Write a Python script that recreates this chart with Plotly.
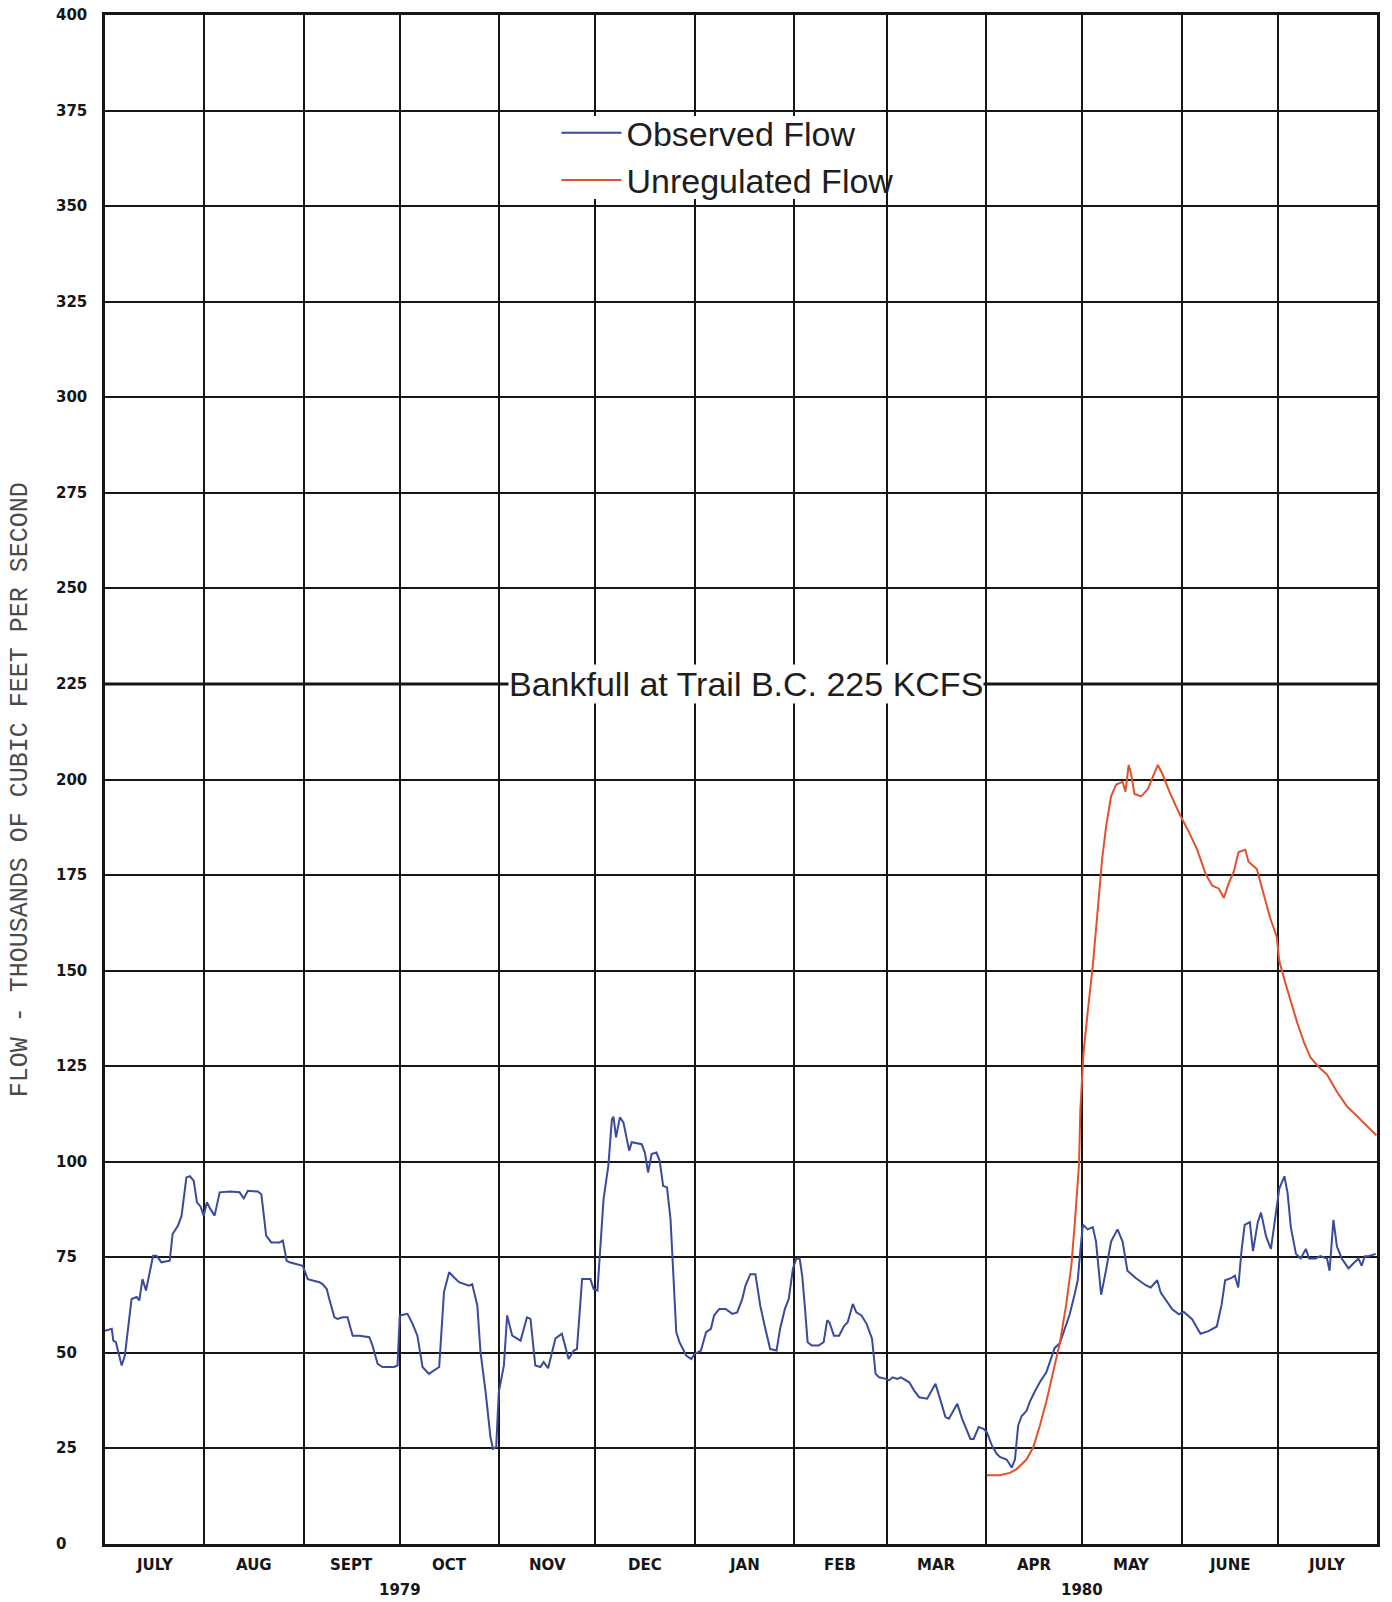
import pandas as pd
import plotly.graph_objects as go

START = pd.Timestamp("1979-07-01")

# Observed flow at Trail, B.C.: days after 1 July 1979, thousands of cfs
obs_day = [0, 2.1, 2.6, 3.4, 5.2, 6.2, 7.3, 8.3, 9.9, 10.7, 11.7, 12.8, 15.0, 16.1, 17.6, 20.2,
           21.1, 22.8, 23.9, 25.4, 26.5, 27.7, 28.7, 29.8, 30.8, 31.8, 32.9, 34.2, 35.8, 38.9,
           42.0, 43.3, 44.6, 47.7, 48.8, 50.3, 51.9, 54.5, 55.5, 56.7, 57.6, 59.6, 61.7, 63.3,
           64.8, 66.9, 67.9, 69.2, 70.0, 71.6, 72.6, 74.2, 75.7, 77.3, 79.4, 82.5, 83.5, 85.1,
           86.6, 90.2, 91.3, 92.0, 94.4, 96.0, 97.5, 99.1, 101.1, 102.7, 104.3, 105.8, 107.4,
           108.9, 110.5, 113.6, 114.6, 116.2, 117.2, 118.8, 120.3, 121.1, 122.1, 122.9, 124.5,
           125.5, 127.1, 129.7, 131.7, 132.8, 134.3, 135.9, 136.9, 138.3, 140.6, 142.6, 144.7,
           146.3, 147.3, 148.9, 151.5, 152.5, 153.7, 155.6, 157.1, 158.2, 158.7, 159.5, 160.7,
           161.8, 163.6, 164.4, 167.5, 168.5, 169.5, 170.6, 172.1, 173.1, 174.2, 175.4, 176.5,
           178.3, 179.3, 181.4, 183.0, 184.0, 186.0, 187.6, 189.1, 190.1, 191.7, 193.7, 195.8,
           197.3, 198.9, 199.9, 201.4, 203.0, 204.5, 206.1, 207.6, 209.6, 210.7, 212.2, 213.4,
           214.7, 215.7, 216.8, 217.6, 218.4, 219.3, 220.6, 222.7, 224.3, 225.4, 226.1, 227.5,
           229.1, 230.7, 231.8, 233.4, 234.5, 236.1, 237.7, 239.4, 240.5, 241.6, 243.7, 244.7,
           245.8, 247.3, 248.4, 251.0, 252.5, 254.1, 256.6, 257.7, 259.2, 260.8, 262.3, 263.4,
           266.0, 267.5, 270.1, 271.1, 272.7, 274.2, 275.2, 276.8, 278.3, 279.3, 281.4, 283.0,
           284.0, 285.0, 286.1, 287.6, 288.7, 290.2, 291.8, 293.8, 294.9, 296.4, 298.0, 299.5,
           301.1, 302.6, 303.6, 304.4, 305.2, 306.7, 308.3, 309.3, 310.9, 312.4, 314.0, 316.0,
           317.6, 319.1, 321.7, 324.8, 326.4, 328.4, 329.5, 333.1, 335.2, 336.7, 339.3, 341.9,
           344.4, 347.0, 348.5, 349.6, 351.6, 352.6, 353.7, 354.7, 355.7, 357.3, 358.3, 359.8,
           360.8, 362.4, 363.9, 366.5, 368.1, 369.1, 370.1, 371.7, 373.2, 374.8, 375.8, 377.8,
           379.3, 381.4, 382.2, 383.4, 384.5, 386.0, 388.1, 389.6, 391.2, 392.2, 393.2, 394.3,
           396.6]
obs_kcfs = [55.8, 56.3, 53.2, 52.8, 46.7, 49.3, 57.1, 64.1, 64.6, 63.7, 69.3, 66.3, 75.4, 75.4,
            73.7, 74.1, 81.1, 83.3, 85.9, 95.9, 96.2, 95.0, 89.4, 88.3, 85.9, 89.4, 87.6, 85.9,
            92.0, 92.2, 92.0, 90.4, 92.4, 92.2, 91.5, 80.7, 78.9, 78.9, 79.4, 74.1, 73.7, 73.3,
            72.8, 69.3, 68.9, 68.5, 68.0, 66.7, 64.1, 59.3, 58.9, 59.3, 59.3, 54.5, 54.5, 54.1,
            51.9, 47.1, 46.3, 46.3, 46.7, 59.8, 60.2, 57.6, 54.5, 46.3, 44.5, 45.4, 46.3, 65.9,
            71.1, 69.8, 68.5, 67.6, 68.0, 62.4, 50.2, 39.7, 28.0, 24.9, 25.4, 39.7, 46.7, 59.8,
            54.5, 53.2, 59.3, 58.9, 46.7, 46.3, 47.6, 46.0, 53.8, 55.0, 48.4, 50.6, 51.0, 69.3,
            69.3, 66.7, 66.3, 90.2, 99.0, 111.1, 111.8, 106.4, 111.6, 110.3, 102.9, 105.1, 104.6,
            102.4, 97.2, 102.0, 102.4, 100.3, 93.7, 93.3, 85.0, 55.4, 52.8, 49.3, 48.4, 49.7,
            50.6, 55.4, 56.3, 59.8, 61.5, 61.5, 60.2, 60.6, 64.1, 67.6, 70.6, 70.6, 62.4, 56.3,
            51.0, 50.6, 56.3, 61.5, 64.1, 72.0, 74.6, 74.7, 70.2, 62.4, 52.8, 51.9, 51.9, 52.8,
            58.5, 58.0, 54.5, 54.5, 57.1, 58.0, 62.8, 60.6, 59.8, 57.6, 53.7, 44.5, 43.6, 43.2,
            42.8, 43.6, 43.2, 43.6, 42.3, 40.2, 38.4, 38.0, 39.7, 41.9, 37.5, 33.2, 32.8, 36.7,
            32.8, 27.5, 27.5, 30.6, 30.1, 29.3, 25.8, 23.6, 22.8, 22.1, 20.0, 22.1, 31.0, 33.5,
            34.8, 37.3, 39.9, 42.4, 44.9, 47.5, 51.3, 52.5, 56.3, 60.1, 65.2, 69.0, 76.6, 83.5,
            82.3, 82.9, 79.1, 65.2, 71.5, 79.1, 82.3, 79.1, 71.5, 69.6, 67.7, 67.1, 69.0, 65.8,
            61.4, 60.1, 60.7, 58.8, 55.0, 55.7, 56.9, 62.6, 69.0, 69.6, 70.2, 67.1, 76.6, 83.5,
            84.2, 76.6, 84.2, 86.7, 80.4, 77.2, 93.0, 96.2, 91.8, 82.9, 75.9, 74.7, 77.2, 74.7,
            74.7, 75.3, 74.7, 71.5, 84.8, 77.8, 74.7, 72.1, 73.4, 74.7, 72.8, 75.3, 75.3, 75.9]

# Computed unregulated flow, April through July 1980
unreg_day = [275.2, 279.3, 282.4, 284.5, 287.6, 289.7, 291.8, 293.8, 295.9, 298.0, 300.0, 301.6,
             302.7, 304.0, 304.4, 305.4, 306.8, 308.3, 309.9, 311.2, 312.5, 314.0, 315.6, 317.6,
             318.5, 319.5, 320.3, 321.3, 323.4, 325.5, 327.0, 328.6, 330.1, 332.2, 335.3, 338.4,
             340.9, 343.5, 345.6, 347.6, 349.2, 350.7, 352.3, 353.8, 355.9, 356.9, 359.5, 361.6,
             363.6, 365.7, 366.5, 368.6, 370.2, 372.2, 374.3, 376.3, 378.9, 381.4, 384.5, 387.6,
             390.7, 392.2, 394.3, 396.8]
unreg_kcfs = [18.0, 18.0, 18.6, 19.6, 22.1, 25.3, 31.0, 37.3, 44.9, 52.5, 62.6, 72.8, 84.2, 99.4,
              113.3, 128.5, 139.9, 151.3, 166.5, 179.1, 188.0, 195.6, 198.7, 199.4, 196.8, 203.8,
              201.3, 196.2, 195.6, 197.5, 200.6, 203.8, 201.3, 196.8, 191.1, 186.1, 181.6, 175.3,
              172.2, 171.5, 169.0, 172.8, 175.9, 181.0, 181.6, 178.5, 176.6, 170.2, 163.9, 158.9,
              152.5, 146.2, 141.8, 136.1, 131.0, 127.2, 124.7, 122.8, 118.3, 114.5, 112.0, 110.7,
              108.8, 106.9]

month_starts = ["1979-07-01", "1979-08-01", "1979-09-01", "1979-10-01", "1979-11-01",
                "1979-12-01", "1980-01-01", "1980-02-01", "1980-03-01", "1980-04-01",
                "1980-05-01", "1980-06-01", "1980-07-01", "1980-08-01"]
month_labels = ["JULY", "AUG", "SEPT", "OCT", "NOV", "DEC", "JAN", "FEB", "MAR", "APR",
                "MAY", "JUNE", "JULY"]
year_labels = ["1979", "1980"]
year_label_dates = ["1979-10-01", "1980-05-01"]
flow_ticks = [0, 25, 50, 75, 100, 125, 150, 175, 200, 225, 250, 275, 300, 325, 350, 375, 400]
BANKFULL_KCFS = 225

to_dates = lambda days: START + pd.to_timedelta(days, unit="D")

INK = "#161616"
TICK_FONT = dict(family="DejaVu Sans", size=15, color=INK, weight="bold")
TEXT_FONT = dict(family="Liberation Sans", size=34, color="#1e1e1e")

fig = go.Figure()
fig.add_trace(go.Scatter(x=to_dates(obs_day), y=obs_kcfs, mode="lines",
                         name="Observed Flow", line=dict(color="#3a4a9c", width=2)))
fig.add_trace(go.Scatter(x=to_dates(unreg_day), y=unreg_kcfs, mode="lines",
                         name="Unregulated Flow", line=dict(color="#e0522c", width=2)))

# bankfull reference line
fig.add_hline(y=BANKFULL_KCFS, line=dict(color=INK, width=3))

# white patch behind the legend so the grid does not run through it
fig.add_shape(type="rect", xref="paper", yref="paper", x0=0.3493, x1=0.6099,
              y0=0.8797, y1=0.9339, fillcolor="white", line=dict(width=0), layer="above")

annotations = [dict(text=f"Bankfull at Trail B.C. {BANKFULL_KCFS} KCFS", xref="paper", x=0.5036,
                    xanchor="center", yref="y", y=BANKFULL_KCFS, showarrow=False,
                    bgcolor="white", borderpad=0, font=TEXT_FONT)]

# month names centred within each month
starts = pd.to_datetime(month_starts)
for lab, a, b in zip(month_labels, starts[:-1], starts[1:]):
    annotations.append(dict(text=lab, x=a + (b - a) / 2, xref="x", y=-0.0137, yref="paper",
                            showarrow=False, xanchor="center", yanchor="middle", font=TICK_FONT))
for lab, d in zip(year_labels, year_label_dates):
    annotations.append(dict(text=lab, x=d, xref="x", y=-0.0301, yref="paper",
                            showarrow=False, xanchor="center", yanchor="middle", font=TICK_FONT))

# flow tick labels, left aligned
for v in flow_ticks:
    annotations.append(dict(text=str(v), x=-0.040, xref="paper", xanchor="left",
                            y=v, yref="y", showarrow=False, yanchor="middle", font=TICK_FONT))

annotations.append(dict(text="FLOW - THOUSANDS OF CUBIC FEET PER SECOND", textangle=-90,
                        xref="paper", x=-0.0667, xanchor="center", yref="paper", y=0.493,
                        yanchor="middle", showarrow=False,
                        font=dict(family="Liberation Mono", size=25, color="#4a4a4a")))

axis_common = dict(showgrid=True, gridcolor=INK, gridwidth=2, showline=True, linecolor=INK,
                   linewidth=3, mirror=True, zeroline=False, showticklabels=False, ticks="")

fig.update_layout(
    width=1392, height=1602,
    margin=dict(l=105, r=13, t=15, b=58),
    paper_bgcolor="white", plot_bgcolor="white",
    xaxis=dict(type="date", range=[month_starts[0], month_starts[-1]], tickmode="array",
               tickvals=month_starts, **axis_common),
    yaxis=dict(range=[0, 400], tickmode="array", tickvals=flow_ticks, **axis_common),
    legend=dict(x=0.3549, y=0.9417, xanchor="left", yanchor="top",
                bgcolor="rgba(255,255,255,0)", font=TEXT_FONT, itemwidth=60, tracegroupgap=0),
    annotations=annotations,
    showlegend=True,
)

fig.write_html("out.html")
